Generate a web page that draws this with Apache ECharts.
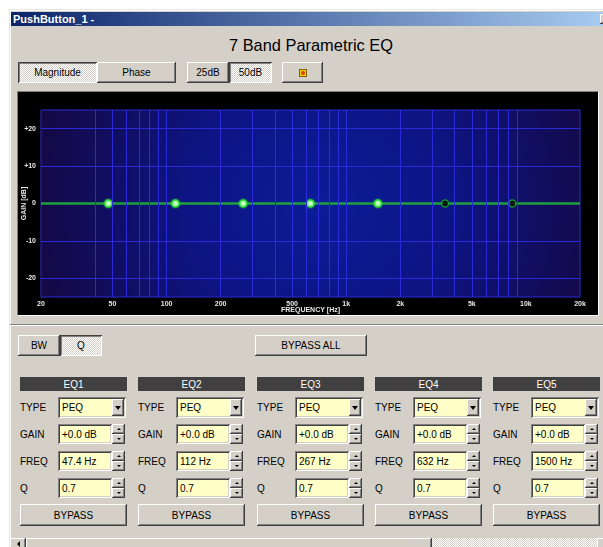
<!DOCTYPE html>
<html>
<head>
<meta charset="utf-8">
<script src="https://cdn.jsdelivr.net/npm/echarts/dist/echarts.min.js"></script>
<style>
  html,body{margin:0;padding:0;}
  body{width:603px;height:547px;overflow:hidden;background:#fff;position:relative;
       font-family:'Liberation Sans',Arial,sans-serif;font-size:10px;color:#000;}
  .a{position:absolute;box-sizing:border-box;}
  .raised{background:#d4d0c8;
    box-shadow:inset -1px -1px #404040, inset 1px 1px #fff, inset -2px -2px #808080, inset 2px 2px #d4d0c8;}
  .pressed{background-color:#d4d0c8;
    background-image:repeating-conic-gradient(#ffffff 0 25%, #d4d0c8 0 50%);background-size:2px 2px;
    box-shadow:inset 1px 1px #404040, inset -1px -1px #fff, inset 2px 2px #808080;}
  .btn{display:flex;align-items:center;justify-content:center;white-space:nowrap;}
  .sunk{background:#ffffc8;
    box-shadow:inset 1px 1px #808080, inset -1px -1px #fff, inset 2px 2px #404040, inset -2px -2px #d4d0c8;
    padding-left:4px;display:flex;align-items:center;white-space:nowrap;}
  .hdr{background:#404040;color:#fff;display:flex;align-items:center;justify-content:center;}
  .lbl{display:flex;align-items:center;white-space:nowrap;}
  .tri-down{width:0;height:0;border-left:3.5px solid transparent;border-right:3.5px solid transparent;border-top:4px solid #000;}
  .tri-up-s{width:0;height:0;border-left:2px solid transparent;border-right:2px solid transparent;border-bottom:2px solid #000;}
  .tri-dn-s{width:0;height:0;border-left:2px solid transparent;border-right:2px solid transparent;border-top:2px solid #000;}
  .tri-left{width:0;height:0;border-top:3px solid transparent;border-bottom:3px solid transparent;border-right:3px solid #000;}
</style>
</head>
<body>
<div id="ui"></div>
<div class="a" style="left:17px;top:91px;width:582px;height:225px;border-top:1px solid #808080;border-left:1px solid #808080;border-right:1px solid #fff;border-bottom:1px solid #fff;"></div>
<div id="chart" class="a" style="left:18px;top:92px;width:580px;height:223px;background:#000;"></div>
<script>
// ---------- data ----------
const bandNames   = ['EQ1', 'EQ2', 'EQ3', 'EQ4', 'EQ5', 'EQ6', 'EQ7'];
const bandTypes   = ['PEQ', 'PEQ', 'PEQ', 'PEQ', 'PEQ', 'PEQ', 'PEQ'];
const bandFreqHz  = [47.4, 112, 267, 632, 1500, 3550, 8400];
const bandGainDb  = [0, 0, 0, 0, 0, 0, 0];
const bandQ       = [0.7, 0.7, 0.7, 0.7, 0.7, 0.7, 0.7];
const bandActive  = [true, true, true, true, true, false, false];
const curveFreqHz = [20, 20000];
const curveGainDb = [0, 0];
const freqTickValues = [20, 50, 100, 200, 500, 1000, 2000, 5000, 10000, 20000];
const freqTickLabels = ['20', '50', '100', '200', '500', '1k', '2k', '5k', '10k', '20k'];
const gainTickValues = [-20, -10, 0, 10, 20];
const gainTickLabels = ['-20', '-10', '0', '+10', '+20'];
const freqGridValues = [40, 50, 60, 70, 80, 90, 100, 200, 300, 400, 500, 600, 700, 800, 900, 1000,
                        2000, 3000, 4000, 5000, 6000, 7000, 8000, 9000];
const gainGridValues = [-20, -10, 10, 20];
const visiblePanels = 5;

// ---------- UI (window chrome & controls) ----------
const ui = document.getElementById('ui');
function box(cls, l, t, w, h, html, extra) {
  const d = document.createElement('div');
  d.className = 'a ' + cls;
  d.style.cssText = `left:${l}px;top:${t}px;width:${w}px;height:${h}px;` + (extra || '');
  if (html != null) d.innerHTML = html;
  ui.appendChild(d);
  return d;
}
// window body
box('', 9, 9, 600, 540, null, 'background:#d4d0c8;border-top:1px solid #e8e6e2;border-left:1px solid #e8e6e2;');
box('', 10, 10, 600, 1, null, 'background:#fff;');
box('', 10, 10, 1, 540, null, 'background:#fff;');
// title bar
box('', 11, 12, 592, 14, 'PushButton_1 -',
  'background:linear-gradient(to right,#0a246a,#a6caf0);color:#fff;font-weight:bold;font-size:11px;line-height:14px;padding-left:2px;');
box('raised', 600, 14, 10, 10, null);
// title
box('', 0, 35, 622, 20, '7 Band Parametric EQ', 'text-align:center;font-size:16.4px;line-height:20px;');
// top buttons
box('pressed btn', 18, 62, 79, 21, 'Magnitude');
box('raised btn', 97, 62, 79, 21, 'Phase');
box('raised btn', 187, 62, 42, 21, '25dB');
box('pressed btn', 229, 62, 43, 21, '50dB');
box('raised btn', 282, 62, 41, 21,
  '<div style="width:8px;height:8px;background:#f0d000;border:1px solid #806000;box-sizing:border-box;display:flex;align-items:center;justify-content:center;"><div style="width:4px;height:4px;background:#e04000;border-radius:2px;"></div></div>');
// separator
box('', 10, 324, 600, 1, null, 'background:#808080;');
box('', 10, 325, 600, 1, null, 'background:#fff;');
// BW / Q / BYPASS ALL
box('raised btn', 18, 335, 42, 21, 'BW');
box('pressed btn', 60, 335, 42, 21, 'Q');
box('raised btn', 255, 335, 112, 21, 'BYPASS ALL');

function fmtFreq(f) { return (f < 100 ? f.toFixed(1) : String(Math.round(f))) + ' Hz'; }
function fmtGain(g) { return (g >= 0 ? '+' : '-') + Math.abs(g).toFixed(1) + ' dB'; }
function spinner(x, y, h) {
  const half = Math.floor(h / 2);
  box('raised btn', x, y, 13, half, '<div class="tri-up-s"></div>');
  box('raised btn', x, y + half, 13, h - half, '<div class="tri-dn-s"></div>');
}
for (let i = 0; i < visiblePanels; i++) {
  const x0 = Math.round(20 + i * 118.3);
  box('hdr', x0, 377, 107, 14, bandNames[i]);
  const rows = [['TYPE', 397, 21], ['GAIN', 424, 20], ['FREQ', 451, 20], ['Q', 478, 20]];
  rows.forEach(([name, y, h]) => box('lbl', x0, y, 36, h, name));
  // TYPE combo
  box('sunk', x0 + 38, 397, 68, 21, bandTypes[i]);
  box('raised btn', x0 + 92, 399, 12, 17, '<div class="tri-down"></div>');
  // GAIN / FREQ / Q edits
  box('sunk', x0 + 38, 424, 54, 20, fmtGain(bandGainDb[i]));
  spinner(x0 + 92, 424, 20);
  box('sunk', x0 + 38, 451, 54, 20, fmtFreq(bandFreqHz[i]));
  spinner(x0 + 92, 451, 20);
  box('sunk', x0 + 38, 478, 54, 20, bandQ[i].toFixed(1));
  spinner(x0 + 92, 478, 20);
  box('raised btn', x0, 504, 107, 22, 'BYPASS');
}
// scrollbar
box('pressed', 10, 538, 595, 12, null, 'box-shadow:none;');
box('raised btn', 10, 538, 16, 12, '<div class="tri-left"></div>');
box('raised', 26, 538, 406, 12, null);
box('raised', 597, 538, 12, 12, null);

// ---------- chart ----------
const chart = echarts.init(document.getElementById('chart'), null, {renderer: 'canvas'});
const axisTxt = {color: '#e8e8e8', fontSize: 7, fontWeight: 'bold', fontFamily: 'Liberation Sans'};
function lookup(vals, labels, v) {
  let best = 0;
  for (let i = 1; i < vals.length; i++) if (Math.abs(vals[i] - v) < Math.abs(vals[best] - v)) best = i;
  return labels[best];
}
const gridLineData = freqGridValues.map(f => ({xAxis: f})).concat(gainGridValues.map(g => ({yAxis: g})));
chart.setOption({
  animation: false,
  backgroundColor: '#000',
  grid: {
    left: 23, top: 18, width: 539, height: 187, show: true,
    containLabel: false, outerBoundsMode: 'none',
    backgroundColor: {type: 'radial', x: 0.52, y: 0.5, r: 1.6,
      colorStops: [{offset: 0, color: '#0b1c98'}, {offset: 0.45, color: '#0d1482'}, {offset: 1, color: '#150840'}]},
    borderColor: '#2a2ad8', borderWidth: 1
  },
  xAxis: {
    type: 'log', logBase: 10, min: 20, max: 20000,
    name: 'FREQUENCY [Hz]', nameLocation: 'middle', nameGap: 10, nameMoveOverlap: false,
    nameTextStyle: axisTxt,
    axisLine: {show: false}, axisTick: {show: false}, splitLine: {show: false},
    axisLabel: Object.assign({customValues: freqTickValues, margin: 4,
      formatter: v => lookup(freqTickValues, freqTickLabels, v)}, axisTxt)
  },
  yAxis: {
    type: 'value', min: -25, max: 25,
    name: 'GAIN [dB]', nameLocation: 'middle', nameGap: 13, nameMoveOverlap: false,
    nameTextStyle: axisTxt,
    axisLine: {show: false}, axisTick: {show: false}, splitLine: {show: false},
    axisLabel: Object.assign({customValues: gainTickValues, margin: 5,
      formatter: v => lookup(gainTickValues, gainTickLabels, v)}, axisTxt)
  },
  series: [
    {
      type: 'line', data: [], z: 1, silent: true,
      markLine: {silent: true, symbol: ['none', 'none'], label: {show: false},
        lineStyle: {type: 'solid', color: '#2a2ad8', width: 1}, data: gridLineData}
    },
    {
      type: 'line', z: 3, showSymbol: false, silent: true,
      data: curveFreqHz.map((f, i) => [f, curveGainDb[i]]),
      lineStyle: {color: '#1fa03c', width: 2.5}
    },
    {
      type: 'scatter', z: 4, symbolSize: 7,
      data: bandFreqHz.map((f, i) => ({
        value: [f, bandGainDb[i]],
        itemStyle: bandActive[i]
          ? {color: '#ffffff', borderColor: '#22e022', borderWidth: 1.5, shadowColor: '#30ff30', shadowBlur: 2}
          : {color: '#000000', borderColor: '#18b030', borderWidth: 1.5}
      }))
    }
  ]
});
</script>
</body>
</html>
